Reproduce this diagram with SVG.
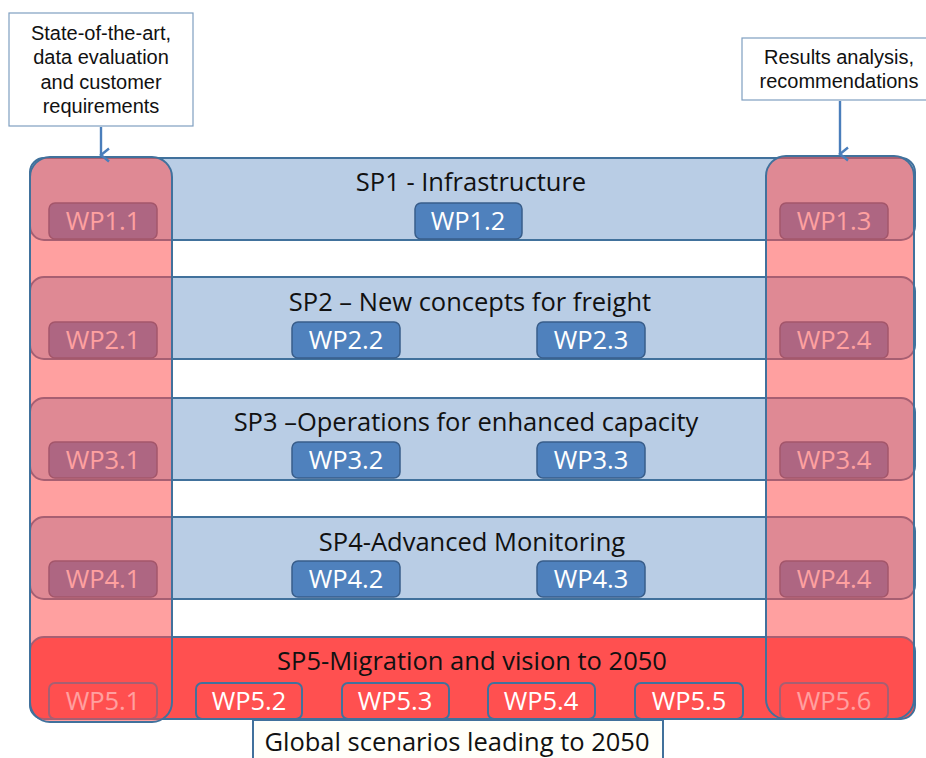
<svg xmlns="http://www.w3.org/2000/svg" width="926" height="758" viewBox="0 0 926 758">
<style>
text{font-family:"Open Sans","Noto Sans","Liberation Sans",sans-serif;text-anchor:middle}
.band{fill:#B9CDE5;stroke:#41719C;stroke-width:2}
.band5{fill:#FF5050;stroke:#41719C;stroke-width:2}
.wp{fill:#4F81BD;stroke:#385D8A;stroke-width:1.5}
.wp5{fill:#FF5050;stroke:#41719C;stroke-width:2}
.wpt{fill:#FFFFFF;font-size:25.5px}
.spt{fill:#111111;font-size:25.5px}
.col{fill:#FF5050;fill-opacity:0.54;stroke:#41719C;stroke-width:2}
.note{fill:#FFFFFF;stroke:#7F9FC0;stroke-width:1.2}
.nt{fill:#111111;font-size:20px;font-family:"Liberation Sans","Open Sans",sans-serif}
.conn{stroke:#4A7EBB;stroke-width:2.4;fill:none}
</style>
<defs>
<marker id="arr" markerWidth="16" markerHeight="14" refX="8" refY="11" orient="auto" markerUnits="userSpaceOnUse" viewBox="0 0 16 14">
<path d="M1.5,3 L8,11 L14.5,3" fill="none" stroke="#4A7EBB" stroke-width="2.4"/>
</marker>
</defs>
<rect width="926" height="758" fill="#FFFFFF"/>

<g id="sp1">
<rect class="band" x="30" y="158" width="885" height="82" rx="14"/>
<text class="spt" x="471" y="191">SP1 - Infrastructure</text>
</g>
<g id="wp1.1"><rect class="wp" x="49" y="203" width="108" height="36" rx="6"/><text class="wpt" x="103" y="230">WP1.1</text></g>
<g id="wp1.2"><rect class="wp" x="415" y="203" width="107" height="36" rx="6"/><text class="wpt" x="468" y="230">WP1.2</text></g>
<g id="wp1.3"><rect class="wp" x="780" y="203" width="108" height="36" rx="6"/><text class="wpt" x="834" y="230">WP1.3</text></g>

<g id="sp2">
<rect class="band" x="30" y="277" width="885" height="82" rx="14"/>
<text class="spt" x="470" y="311">SP2 – New concepts for freight</text>
</g>
<g id="wp2.1"><rect class="wp" x="49" y="322" width="108" height="36" rx="6"/><text class="wpt" x="103" y="349">WP2.1</text></g>
<g id="wp2.2"><rect class="wp" x="292" y="322" width="108" height="36" rx="6"/><text class="wpt" x="346" y="349">WP2.2</text></g>
<g id="wp2.3"><rect class="wp" x="537" y="322" width="108" height="36" rx="6"/><text class="wpt" x="591" y="349">WP2.3</text></g>
<g id="wp2.4"><rect class="wp" x="780" y="322" width="108" height="36" rx="6"/><text class="wpt" x="834" y="349">WP2.4</text></g>

<g id="sp3">
<rect class="band" x="30" y="398" width="885" height="82" rx="14"/>
<text class="spt" x="466" y="431">SP3 –Operations for enhanced capacity</text>
</g>
<g id="wp3.1"><rect class="wp" x="49" y="442" width="108" height="36" rx="6"/><text class="wpt" x="103" y="469">WP3.1</text></g>
<g id="wp3.2"><rect class="wp" x="292" y="442" width="108" height="36" rx="6"/><text class="wpt" x="346" y="469">WP3.2</text></g>
<g id="wp3.3"><rect class="wp" x="537" y="442" width="108" height="36" rx="6"/><text class="wpt" x="591" y="469">WP3.3</text></g>
<g id="wp3.4"><rect class="wp" x="780" y="442" width="108" height="36" rx="6"/><text class="wpt" x="834" y="469">WP3.4</text></g>

<g id="sp4">
<rect class="band" x="30" y="517" width="885" height="82" rx="14"/>
<text class="spt" x="472" y="551">SP4-Advanced Monitoring</text>
</g>
<g id="wp4.1"><rect class="wp" x="49" y="561" width="108" height="36" rx="6"/><text class="wpt" x="103" y="588">WP4.1</text></g>
<g id="wp4.2"><rect class="wp" x="292" y="561" width="108" height="36" rx="6"/><text class="wpt" x="346" y="588">WP4.2</text></g>
<g id="wp4.3"><rect class="wp" x="537" y="561" width="108" height="36" rx="6"/><text class="wpt" x="591" y="588">WP4.3</text></g>
<g id="wp4.4"><rect class="wp" x="780" y="561" width="108" height="36" rx="6"/><text class="wpt" x="834" y="588">WP4.4</text></g>

<g id="sp5">
<rect class="band5" x="30" y="637" width="885" height="82" rx="14"/>
<text class="spt" x="472" y="670">SP5-Migration and vision to 2050</text>
</g>
<g id="wp5.1"><rect class="wp5" x="49" y="683" width="108" height="36" rx="6"/><text class="wpt" x="103" y="710">WP5.1</text></g>
<g id="wp5.2"><rect class="wp5" x="196" y="683" width="106" height="36" rx="6"/><text class="wpt" x="249" y="710">WP5.2</text></g>
<g id="wp5.3"><rect class="wp5" x="342" y="683" width="107" height="36" rx="6"/><text class="wpt" x="395" y="710">WP5.3</text></g>
<g id="wp5.4"><rect class="wp5" x="488" y="683" width="107" height="36" rx="6"/><text class="wpt" x="541" y="710">WP5.4</text></g>
<g id="wp5.5"><rect class="wp5" x="635" y="683" width="108" height="36" rx="6"/><text class="wpt" x="689" y="710">WP5.5</text></g>
<g id="wp5.6"><rect class="wp5" x="780" y="683" width="108" height="36" rx="6"/><text class="wpt" x="834" y="710">WP5.6</text></g>

<g id="global">
<path d="M253,770 L253,720 L663,720 L663,770" fill="#FFFFFA" stroke="#41719C" stroke-width="2"/>
<text class="spt" x="457" y="751">Global scenarios leading to 2050</text>
</g>

<g id="col-left"><rect class="col" x="30" y="157" width="142" height="565" rx="20"/></g>
<g id="col-right"><rect class="col" x="766" y="156" width="148" height="563" rx="20"/></g>

<g id="note-left">
<rect class="note" x="9" y="13" width="184" height="113"/>
<text class="nt"><tspan x="101" y="40">State-of-the-art,</tspan><tspan x="101" y="64">data evaluation</tspan><tspan x="101" y="89">and customer</tspan><tspan x="101" y="113">requirements</tspan></text>
</g>
<g id="note-right">
<rect class="note" x="742" y="38" width="190" height="62"/>
<text class="nt"><tspan x="839" y="64">Results analysis,</tspan><tspan x="839" y="88">recommendations</tspan></text>
</g>

<g id="connectors">
<line class="conn" x1="101" y1="127" x2="101" y2="155" marker-end="url(#arr)"/>
<line class="conn" x1="840" y1="101" x2="840" y2="154" marker-end="url(#arr)"/>
</g>
</svg>
